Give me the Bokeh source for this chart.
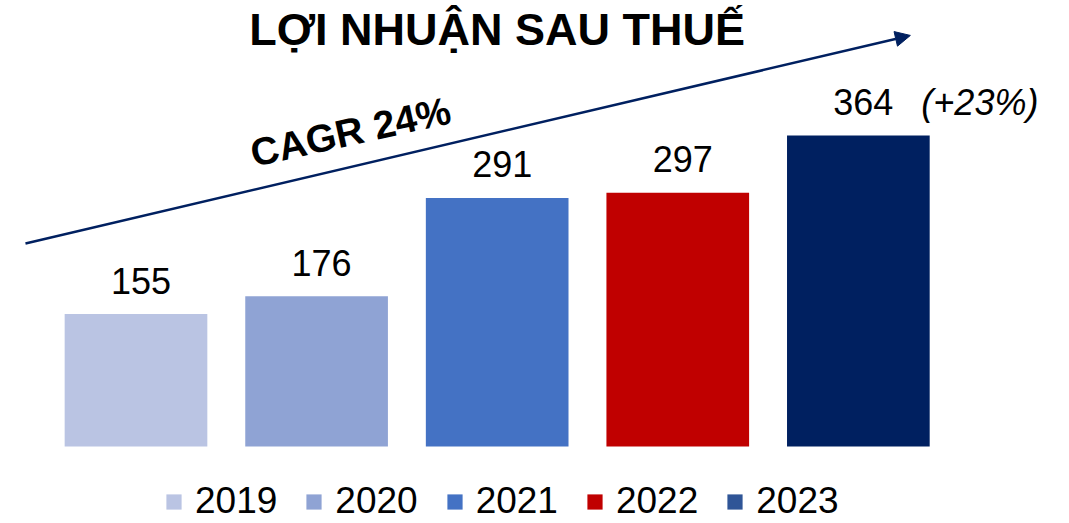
from bokeh.plotting import figure
from bokeh.models import (ColumnDataSource, Range1d, Label, Arrow, NormalHead,
                          Legend, LegendItem)
from bokeh.core.properties import value
from bokeh.embed import file_html
from bokeh.resources import INLINE

# ---- data ----
years = [2019, 2020, 2021, 2022, 2023]
year_labels = ["2019", "2020", "2021", "2022", "2023"]
profit = [155, 176, 291, 297, 364]
bar_colors = ["#BAC4E3", "#8FA3D4", "#4472C4", "#C00000", "#002060"]
legend_colors = ["#BAC4E3", "#8FA3D4", "#4472C4", "#C00000", "#2F5597"]
title_text = "LỢI NHUẬN SAU THUẾ"
cagr_text = "CAGR 24%"
growth_text = "(+23%)"

FONT = "Liberation Sans"

src = ColumnDataSource(dict(
    x=years,
    top=profit,
    label=[str(v) for v in profit],
    color=bar_colors,
    lcolor=legend_colors,
    ylabel=year_labels,
))

p = figure(width=1069, height=523, output_backend="svg", toolbar_location=None,
           x_range=Range1d(2018.2497, 2024.1692), y_range=Range1d(-90.16, 522.2),
           min_border=0, outline_line_color=None)
p.xaxis.visible = False
p.yaxis.visible = False
p.grid.visible = False
p.background_fill_color = "white"
p.border_fill_color = "white"

bars = p.vbar(x="x", top="top", bottom=0, width=0.79, fill_color="color",
              line_color=None, source=src)

p.text(x="x", y="top", text="label", source=src, text_align="center",
       text_baseline="alphabetic", x_offset=5, y_offset=-33.5,
       text_font=value(FONT), text_font_size="36px", text_color="black")

# growth note next to last bar
last = ColumnDataSource(dict(x=[years[-1]], y=[profit[-1]], t=[growth_text]))
p.text(x="x", y="y", text="t", source=last, text_align="left",
       text_baseline="alphabetic", x_offset=63, y_offset=-33.5,
       text_font=value(FONT), text_font_size="36px", text_font_style="italic",
       text_color="black")

# legend proxy renderer (zero height)
leg_r = p.vbar(x="x", top=0, bottom=0, width=0.79, fill_color="lcolor",
               line_color=None, source=src)
items = [LegendItem(label=year_labels[i], renderers=[leg_r], index=i)
         for i in range(len(years))]
legend = Legend(items=items, orientation="horizontal", location=(164, 1),
                glyph_width=19, glyph_height=19, label_standoff=12, spacing=27,
                padding=0, margin=0, border_line_color=None,
                background_fill_alpha=0,
                label_text_font=FONT, label_text_font_size="37px",
                label_text_color="black")
p.add_layout(legend)

# title
p.add_layout(Label(x=2021.0, y=488.5, text=title_text, text_align="center",
                   text_baseline="alphabetic", text_font=FONT,
                   text_font_size="45px", text_font_style="bold",
                   text_color="black"))

# CAGR arrow
p.add_layout(Arrow(x_start=2018.388, y_start=237.7, x_end=2023.288, y_end=481.3,
                   line_color="#002060", line_width=2.5,
                   end=NormalHead(size=15, fill_color="#002060",
                                  line_color="#002060", line_width=1)))
p.add_layout(Label(x=2020.188, y=368.5, text=cagr_text, text_align="center",
                   text_baseline="middle", angle=12.5, angle_units="deg",
                   text_font=FONT, text_font_size="39px",
                   text_font_style="bold", text_color="black"))

open("out.html", "w").write(file_html(p, INLINE))
